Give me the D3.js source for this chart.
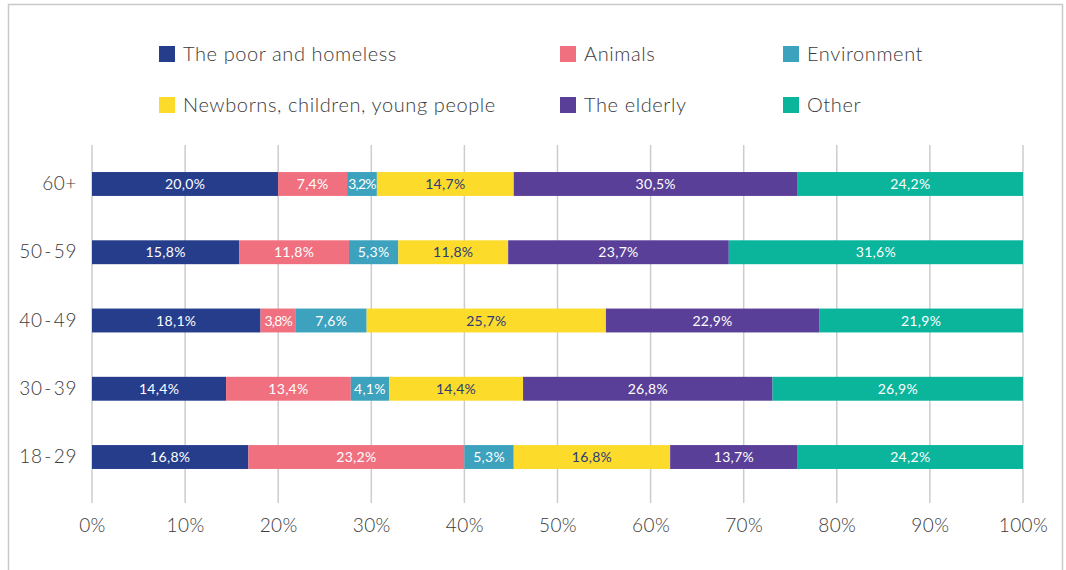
<!DOCTYPE html>
<html>
<head>
<meta charset="utf-8">
<script src="https://cdn.jsdelivr.net/npm/d3@7"></script>
<style>
  html, body { margin: 0; padding: 0; background: #fff; }
  svg { display: block; }
</style>
</head>
<body>
<svg id="chart" width="1066" height="570"></svg>
<script>
// Age groups, top to bottom
const ageGroups = ["60+", "50-59", "40-49", "30-39", "18-29"];

// Share of each cause per age group (percent)
const poorHomeless = [20.0, 15.8, 18.1, 14.4, 16.8];
const animals      = [7.4, 11.8, 3.8, 13.4, 23.2];
const environment  = [3.2, 5.3, 7.6, 4.1, 5.3];
const youngPeople  = [14.7, 11.8, 25.7, 14.4, 16.8];
const elderly      = [30.5, 23.7, 22.9, 26.8, 13.7];
const other        = [24.2, 31.6, 21.9, 26.9, 24.2];

const seriesNames = ["The poor and homeless", "Animals", "Environment",
                     "Newborns, children, young people", "The elderly", "Other"];
const seriesValues = [poorHomeless, animals, environment, youngPeople, elderly, other];
const seriesColors = ["#263d8c", "#f07080", "#3ca2bd", "#fddb2b", "#5a3f98", "#0ab59c"];
const labelColors  = ["#ffffff", "#ffffff", "#ffffff", "#2b3a78", "#ffffff", "#ffffff"];

const xTicks = [0, 10, 20, 30, 40, 50, 60, 70, 80, 90, 100];

const svg = d3.select("#chart");
const font = "Lato, 'Open Sans', sans-serif";
const textColor = "#3a3a3a";

// Outer frame
svg.append("rect")
  .attr("x", 8.5).attr("y", 4.5)
  .attr("width", 1054).attr("height", 580)
  .attr("fill", "none")
  .attr("stroke", "#c9c9c9")
  .attr("stroke-width", 1.5);

const x = d3.scaleLinear().domain([0, 100]).range([92, 1023]);
const y = d3.scaleBand().domain(ageGroups).range([161.8, 479.2])
  .paddingInner(0.65).paddingOuter(0.15);

// Vertical gridlines
svg.append("g").selectAll("line")
  .data(xTicks)
  .join("line")
  .attr("x1", d => x(d)).attr("x2", d => x(d))
  .attr("y1", 145).attr("y2", 503)
  .attr("stroke", "#cccccc")
  .attr("stroke-width", 1.5);

// X axis tick labels
const xAxis = d3.axisBottom(x).tickValues(xTicks).tickFormat(d => d + "%").tickSize(0).tickPadding(0);
const gx = svg.append("g").attr("transform", "translate(0,518)").call(xAxis);
gx.select(".domain").remove();
gx.selectAll("text")
  .attr("font-family", font).attr("font-size", 19).attr("font-weight", 300)
  .attr("letter-spacing", 0.4)
  .attr("fill", textColor).attr("dy", "0.75em");

// Y axis category labels
const yAxis = d3.axisLeft(y).tickSize(0).tickPadding(15);
const gy = svg.append("g").attr("transform", "translate(92,0)").call(yAxis);
gy.select(".domain").remove();
gy.selectAll("text")
  .attr("font-family", font).attr("font-size", 19).attr("font-weight", 300)
  .attr("letter-spacing", 0.6)
  .attr("fill", textColor)
  .text(d => d.replace("-", " - ").replace(/ /g, "\u200a"));

// Build stacked rows
const rows = ageGroups.map((g, i) => {
  const r = { group: g };
  seriesNames.forEach((s, j) => { r[s] = seriesValues[j][i]; });
  return r;
});
const stacked = d3.stack().keys(seriesNames)(rows);

stacked.forEach((layer, j) => {
  // Bar segments of this series
  svg.append("g").selectAll("rect")
    .data(layer)
    .join("rect")
    .attr("x", d => x(d[0]))
    .attr("y", d => y(d.data.group))
    .attr("width", d => x(d[1]) - x(d[0]))
    .attr("height", y.bandwidth())
    .attr("fill", seriesColors[j]);
});

// Value labels
stacked.forEach((layer, j) => {
  svg.append("g").selectAll("text")
    .data(layer)
    .join("text")
    .attr("x", d => (x(d[0]) + x(d[1])) / 2)
    .attr("y", d => y(d.data.group) + y.bandwidth() / 2)
    .attr("dy", "0.36em")
    .attr("text-anchor", "middle")
    .attr("font-family", font)
    .attr("font-size", 14)
    .attr("letter-spacing", d => (d[1] - d[0]) < 4 ? -0.8 : 0.3)
    .attr("fill", labelColors[j])
    .text(d => d3.format(".1f")(d[1] - d[0]).replace(".", ",") + "%");
});

// Legend: three columns, two rows
const legendCols = [159, 560, 783];
const legendRows = [54, 105];
const legend = svg.append("g");
seriesNames.forEach((name, j) => {
  const col = j % 3, row = Math.floor(j / 3);
  const lg = legend.append("g")
    .attr("transform", `translate(${legendCols[col]},${legendRows[row]})`);
  lg.append("rect")
    .attr("x", 0).attr("y", -8)
    .attr("width", 16).attr("height", 16)
    .attr("fill", seriesColors[j]);
  lg.append("text")
    .attr("x", 24).attr("y", 0).attr("dy", "0.36em")
    .attr("font-family", font).attr("font-size", 20).attr("font-weight", 300)
    .attr("letter-spacing", 0.6)
    .attr("fill", textColor)
    .text(name);
});
</script>
</body>
</html>
